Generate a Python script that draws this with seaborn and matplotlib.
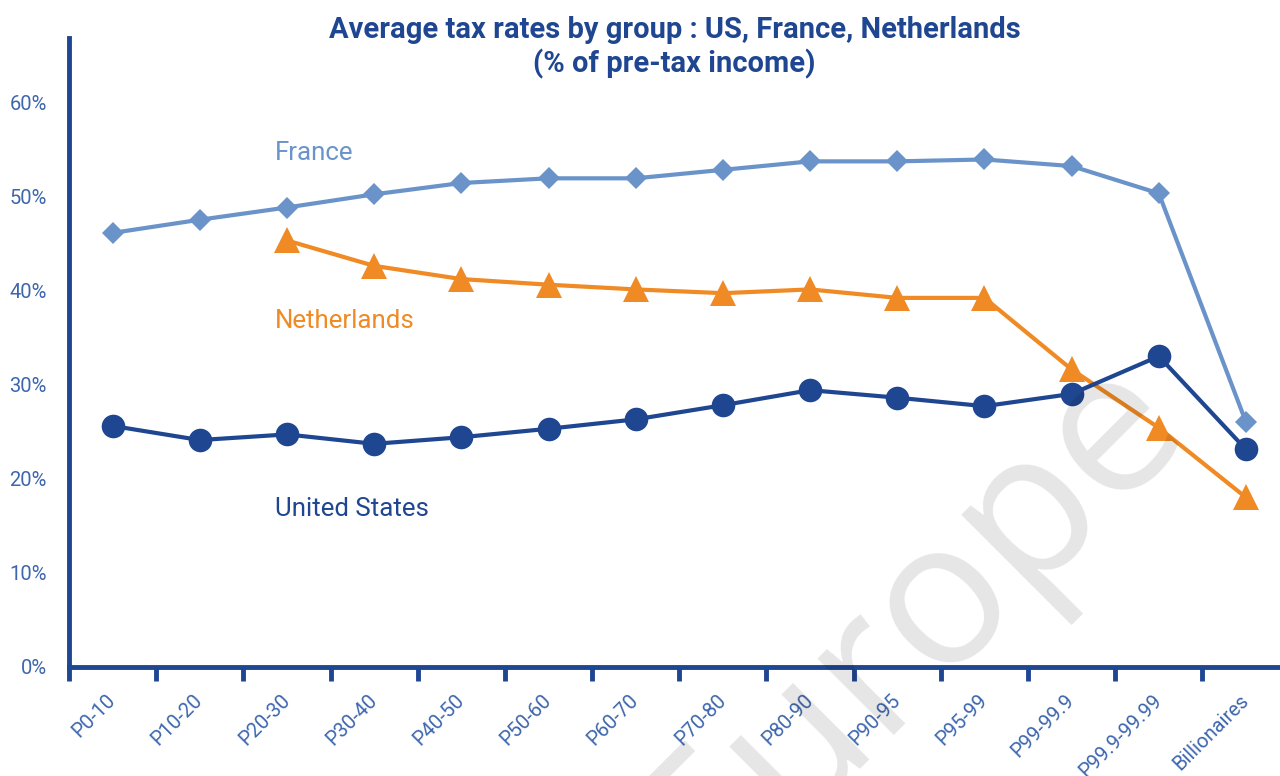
import numpy as np
import pandas as pd
import seaborn as sns
import matplotlib.pyplot as plt

groups = ["P0-10", "P10-20", "P20-30", "P30-40", "P40-50", "P50-60", "P60-70",
          "P70-80", "P80-90", "P90-95", "P95-99", "P99-99.9", "P99.9-99.99",
          "Billionaires"]
france = [46.1, 47.5, 48.8, 50.2, 51.4, 51.9, 51.9, 52.8, 53.7, 53.7, 53.9,
          53.2, 50.3, 26.0]
netherlands_groups = groups[2:]
netherlands = [45.3, 42.6, 41.2, 40.6, 40.1, 39.7, 40.1, 39.2, 39.2, 31.6,
               25.4, 18.0]
us = [25.6, 24.1, 24.7, 23.7, 24.4, 25.3, 26.3, 27.8, 29.4, 28.6, 27.7,
      29.0, 33.0, 23.1]

pos = {g: i for i, g in enumerate(groups)}
df_fr = pd.DataFrame({"x": [pos[g] for g in groups], "y": france})
df_nl = pd.DataFrame({"x": [pos[g] for g in netherlands_groups], "y": netherlands})
df_us = pd.DataFrame({"x": [pos[g] for g in groups], "y": us})

navy = "#1f4690"
c_fr = "#6a93c9"
c_nl = "#f08a24"
c_tick = "#3d66ae"

sns.set_style("white")
plt.rcParams["font.family"] = ["Roboto", "DejaVu Sans"]

fig = plt.figure(figsize=(12.8, 7.76), dpi=100)
ax = fig.add_axes([0.0539, 0.1405, 0.9461, 0.8105])

sns.lineplot(data=df_fr, x="x", y="y", ax=ax, color=c_fr, linewidth=3,
             marker="D", markersize=11.5, markeredgewidth=0)
sns.lineplot(data=df_nl, x="x", y="y", ax=ax, color=c_nl, linewidth=3,
             marker="^", markersize=19, markeredgewidth=0)
sns.lineplot(data=df_us, x="x", y="y", ax=ax, color=navy, linewidth=3,
             marker="o", markersize=17, markeredgewidth=0)

ax.set_xlim(-0.457, 13.39)
ax.set_ylim(0, 66.8)
ax.set_xlabel("")
ax.set_ylabel("")

# tick marks between categories, labels under each category
n = len(groups)
ax.set_xticks(np.arange(n) - 0.5)
ax.set_xticklabels([])
ax.set_xticks(np.arange(n), minor=True)
ax.set_xticklabels(groups, minor=True, rotation=45, ha="right", va="center",
                   rotation_mode="anchor", fontsize=14.5, color=c_tick)
ax.tick_params(axis="x", which="major", length=10, width=3.5, color=navy,
               direction="out", bottom=True)
ax.tick_params(axis="x", which="minor", length=0, pad=22, bottom=True)

ax.set_yticks(range(0, 61, 10))
ax.set_yticklabels([f"{v}%" for v in range(0, 61, 10)], fontsize=14.5,
                   color=c_tick)
ax.tick_params(axis="y", length=0, pad=16)

for s in ["top", "right"]:
    ax.spines[s].set_visible(False)
for s in ["left", "bottom"]:
    ax.spines[s].set_color(navy)
    ax.spines[s].set_linewidth(3.5)

ax.text(1.86, 54.6, "France", color=c_fr, fontsize=18.6, va="center")
ax.text(1.86, 36.7, "Netherlands", color=c_nl, fontsize=18.6, va="center")
ax.text(1.86, 16.8, "United States", color=navy, fontsize=18.6, va="center")

fig.text(0.527, 0.979,
         "Average tax rates by group : US, France, Netherlands\n(% of pre-tax income)",
         ha="center", va="top", fontsize=21, fontweight="bold", color=navy,
         linespacing=1.2)

fig.text(0.712, 0.197, "Europe", rotation=45, fontsize=145, color="black",
         alpha=0.1, ha="center", va="center", rotation_mode="anchor",
         zorder=10, family=["Open Sans", "DejaVu Sans"])

fig.savefig("out.png", dpi=100)
